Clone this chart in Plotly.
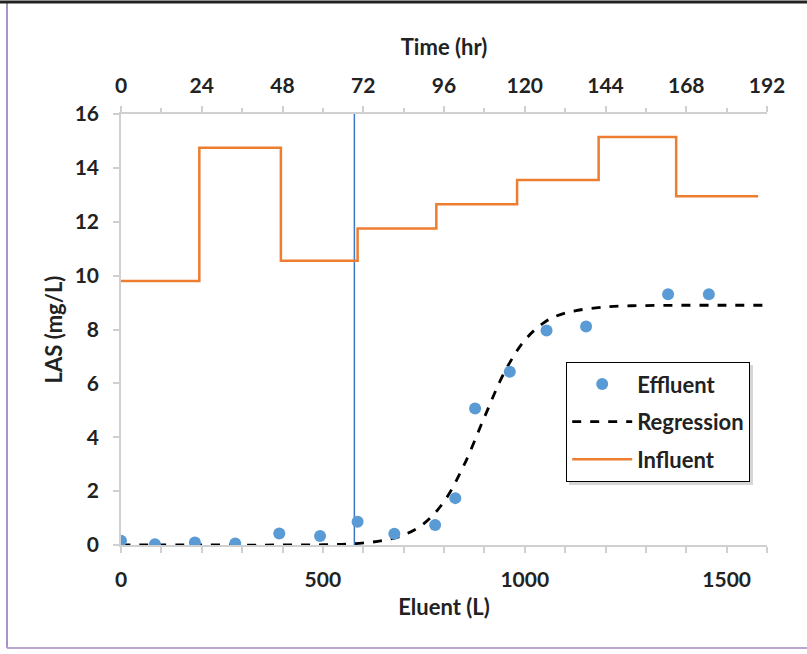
import plotly.graph_objects as go

# ---------------- data ----------------
eluent_effluent = [0, 84, 183, 283, 392, 493, 586, 677, 778, 828, 877, 963, 1054, 1152, 1355, 1456]
las_effluent = [0.16, 0.03, 0.09, 0.06, 0.43, 0.33, 0.86, 0.42, 0.74, 1.74, 5.07, 6.43, 7.96, 8.11, 9.31, 9.31]

eluent_regression = [0, 200, 400, 500, 580, 650, 700, 750, 800, 850, 900, 950, 1000, 1050, 1100, 1200, 1300, 1400, 1500, 1590]
las_regression = [0.0, 0.0, 0.0, 0.01, 0.05, 0.17, 0.37, 0.79, 1.61, 2.98, 4.74, 6.42, 7.60, 8.28, 8.61, 8.84, 8.89, 8.90, 8.90, 8.90]

eluent_influent = [0, 194, 194, 396, 396, 586, 586, 781, 781, 981, 981, 1183, 1183, 1375, 1375, 1578]
las_influent = [9.8, 9.8, 14.75, 14.75, 10.55, 10.55, 11.75, 11.75, 12.65, 12.65, 13.55, 13.55, 15.15, 15.15, 12.95, 12.95]

marker_eluent = 578          # vertical reference line position (L)
y_range = [0, 16]
x_range = [0, 1600]
time_range = [0, 192]
x_ticks = [0, 500, 1000, 1500]
y_ticks = [0, 2, 4, 6, 8, 10, 12, 14, 16]
time_ticks = [0, 24, 48, 72, 96, 120, 144, 168, 192]

# ---------------- styling ----------------
FONT = "Lato"
TXT = "#222222"
AXIS_LINE = "#d0d0d0"
W, H = 807, 654
L, R, T, B = 121, 40, 114, 109
PW, PH = W - L - R, H - T - B


def px(xp):
    return (xp - L) / PW


def py(yp):
    return (H - B - yp) / PH


fig = go.Figure()

fig.add_trace(go.Scatter(
    x=[marker_eluent, marker_eluent], y=y_range, mode="lines",
    line=dict(color="#3d78c8", width=1.5), showlegend=False, hoverinfo="skip"))

fig.add_trace(go.Scatter(
    x=eluent_influent, y=las_influent, mode="lines", name="Influent",
    line=dict(color="#ED7D31", width=2.5), legendgroup="c", legendrank=3))

fig.add_trace(go.Scatter(
    x=eluent_regression, y=las_regression, mode="lines", name="Regression",
    line=dict(color="black", width=2.8, dash="dash", shape="spline"),
    legendgroup="b", legendrank=2))

fig.add_trace(go.Scatter(
    x=eluent_effluent, y=las_effluent, mode="markers", name="Effluent",
    marker=dict(color="#5B9BD5", size=12), legendgroup="a", legendrank=1))

# invisible trace to activate the top (time) axis
fig.add_trace(go.Scatter(
    x=time_range, y=[None, None], xaxis="x2", mode="markers",
    marker=dict(opacity=0), showlegend=False, hoverinfo="skip"))

tickfont = dict(family=FONT, size=21, color=TXT, weight="bold")
titlefont = dict(family=FONT, size=22, color=TXT, weight="bold")

fig.update_layout(
    width=W, height=H,
    margin=dict(l=L, r=R, t=T, b=B),
    paper_bgcolor="white", plot_bgcolor="white",
    xaxis=dict(
        range=x_range, tickvals=x_ticks, ticks="outside", ticklen=6,
        tickcolor=AXIS_LINE, tickwidth=1.5, ticklabelstandoff=9,
        minor=dict(dtick=100, ticks="outside", ticklen=6, tickcolor=AXIS_LINE, tickwidth=1.5),
        showline=True, linecolor=AXIS_LINE, linewidth=1.5, showgrid=False, zeroline=False,
        tickfont=tickfont, title=dict(text="Eluent (L)", font=titlefont, standoff=10)),
    xaxis2=dict(
        range=time_range, overlaying="x", side="top", tickvals=time_ticks,
        ticks="outside", ticklen=6, tickcolor=AXIS_LINE, tickwidth=1.5, ticklabelstandoff=5,
        minor=dict(dtick=12, ticks="outside", ticklen=4, tickcolor=AXIS_LINE, tickwidth=1.5),
        showline=True, linecolor=AXIS_LINE, linewidth=1.5, showgrid=False, zeroline=False,
        tickfont=tickfont, title=dict(text="Time (hr)", font=titlefont, standoff=10)),
    yaxis=dict(
        range=y_range, tickvals=y_ticks, ticks="outside", ticklen=6,
        tickcolor=AXIS_LINE, tickwidth=1.5, ticklabelstandoff=10,
        showline=True, linecolor=AXIS_LINE, linewidth=1.5, showgrid=False, zeroline=False,
        tickfont=tickfont, title=dict(text="LAS (mg/L)", font=titlefont, standoff=6)),
    legend=dict(
        x=px(566), y=py(362), xanchor="left", yanchor="top",
        bgcolor="white", bordercolor="black", borderwidth=1.2,
        font=dict(family=FONT, size=22, color=TXT, weight="bold"),
        itemwidth=60, tracegroupgap=6, traceorder="grouped"),
    shapes=[
        # soft legend shadow (drawn beneath the legend)
        dict(type="rect", xref="paper", yref="paper",
             x0=px(569), x1=px(753), y0=py(365), y1=py(485),
             fillcolor="rgba(0,0,0,0.16)", line=dict(width=0), layer="above"),
        dict(type="line", xref="paper", yref="paper",
             x0=px(7), x1=px(7), y0=py(3), y1=py(648),
             line=dict(color="#8a6fb0", width=1.5)),
        dict(type="line", xref="paper", yref="paper",
             x0=px(7), x1=px(807), y0=py(648), y1=py(648),
             line=dict(color="#b9a6d3", width=2)),
        dict(type="line", xref="paper", yref="paper",
             x0=px(0), x1=px(807), y0=py(2), y1=py(2),
             line=dict(color="#222222", width=3)),
    ],
)

fig.write_html("out.html")
